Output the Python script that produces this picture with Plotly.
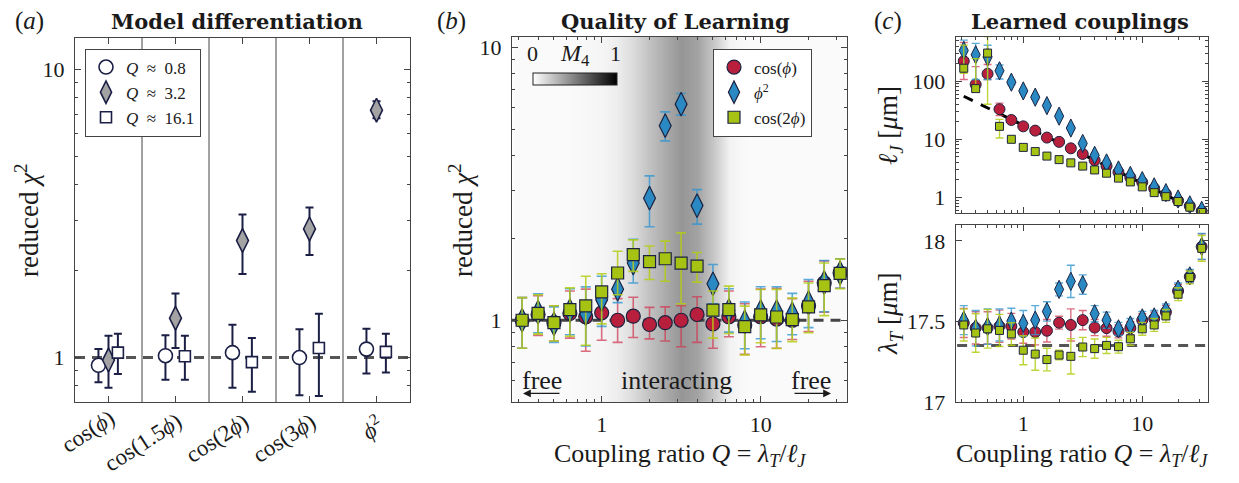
import numpy as np
import plotly.graph_objects as go

W, H = 1239, 483
FONT = "Liberation Serif"
BFONT = "DejaVu Serif"
INK = "#1a1a1a"
AX = "#444444"
NAVY = "#1b1f45"

# ---------------- panel (a) data ----------------
cats = ["cos(<i>ϕ</i>)", "cos(1.5<i>ϕ</i>)", "cos(2<i>ϕ</i>)", "cos(3<i>ϕ</i>)", "<i>ϕ</i><sup>2</sup>"]
q08 = [0.94, 1.015, 1.04, 1.0, 1.07]
q08_hi = [1.07, 1.195, 1.30, 1.255, 1.26]
q08_lo = [0.82, 0.837, 0.785, 0.74, 0.88]
q32 = [0.98, 1.37, 2.55, 2.8, 7.24]
q32_hi = [1.19, 1.67, 3.14, 3.32, 7.77]
q32_lo = [0.785, 1.08, 1.95, 2.27, 6.79]
q161 = [1.04, 1.01, 0.964, 1.08, 1.047]
q161_hi = [1.21, 1.19, 1.17, 1.42, 1.21]
q161_lo = [0.877, 0.837, 0.76, 0.735, 0.888]

# ---------------- panel (b) data ----------------
Q = [0.316, 0.398, 0.501, 0.631, 0.794, 1.0, 1.26, 1.58, 2.0, 2.51, 3.16,
     3.98, 5.01, 6.31, 7.94, 10.0, 12.6, 15.8, 20.0, 25.1, 31.6]
chi_cos = [1.0, 1.05, 0.98, 1.06, 1.03, 1.065, 1.0, 1.035, 0.965, 0.98, 1.0,
           1.05, 0.97, 1.03, 0.96, 1.03, 1.01, 1.0, 1.13, 1.37, 1.49]
chi_cos_up = [0.21, 0.18, 0.15, 0.22, 0.27, 0.22, 0.2, 0.18, 0.15, 0.14, 0.13,
              0.17, 0.15, 0.25, 0.19, 0.27, 0.3, 0.2, 0.26, 0.28, 0.19]
chi_cos_dn = [0.21, 0.17, 0.14, 0.2, 0.26, 0.22, 0.17, 0.17, 0.11, 0.14, 0.2,
              0.22, 0.18, 0.16, 0.21, 0.23, 0.22, 0.15, 0.22, 0.3, 0.18]
chi_phi2 = [1.0, 1.07, 0.97, 1.085, 1.055, 1.19, 1.30, 1.62, 2.8, 5.16, 6.19,
            2.63, 1.36, 1.085, 0.986, 1.076, 1.076, 1.055, 1.16, 1.375, 1.49]
chi_phi2_up = [0.21, 0.18, 0.15, 0.22, 0.27, 0.26, 0.14, 0.36, 0.58, 0.64, 0.58,
               0.38, 0.24, 0.22, 0.18, 0.25, 0.25, 0.2, 0.25, 0.28, 0.19]
chi_phi2_dn = [0.21, 0.17, 0.14, 0.2, 0.25, 0.24, 0.14, 0.25, 0.6, 0.62, 0.55,
               0.38, 0.21, 0.18, 0.2, 0.22, 0.24, 0.17, 0.22, 0.3, 0.18]
chi_cos2 = [1.0, 1.06, 0.98, 1.094, 1.13, 1.27, 1.49, 1.74, 1.64, 1.68, 1.62,
            1.58, 1.09, 1.094, 0.947, 1.047, 1.028, 1.005, 1.12, 1.34, 1.485]
chi_cos2_up = [0.21, 0.18, 0.15, 0.22, 0.32, 0.21, 0.3, 0.23, 0.23, 0.27, 0.47,
               0.19, 0.19, 0.24, 0.18, 0.25, 0.27, 0.2, 0.25, 0.28, 0.19]
chi_cos2_dn = [0.21, 0.17, 0.14, 0.22, 0.32, 0.3, 0.25, 0.23, 0.23, 0.29, 0.47,
               0.2, 0.23, 0.2, 0.2, 0.22, 0.24, 0.17, 0.22, 0.3, 0.18]
M4 = [0.02, 0.02, 0.02, 0.02, 0.03, 0.04, 0.07, 0.14, 0.24, 0.33, 0.41,
      0.36, 0.22, 0.05, 0.02, 0.02, 0.02, 0.02, 0.02, 0.02, 0.02]

# ---------------- panel (c) data ----------------
lJ_cos = [221, 88, 134, 32.9, 21.5, 16.7, 14.1, 10.7, 9.03, 7.0, 5.6,
          4.35, 3.46, 2.71, 2.21, 1.82, 1.43, 1.14, 0.88, 0.71, 0.58]
lJ_cos_up = [243, 90, 60, 9, 2, 1.5, 1.2, 0.9, 0.8, 0.6, 0.5,
             0.4, 0.3, 0.25, 0.2, 0.15, 0.12, 0.1, 0.08, 0.06, 0.05]
lJ_cos_dn = [114, 20, 27, 7.4, 2, 1.5, 1.2, 0.9, 0.8, 0.6, 0.5,
             0.4, 0.3, 0.25, 0.2, 0.15, 0.12, 0.1, 0.08, 0.06, 0.05]
lJ_phi2 = [337, 285, 261, 151, 96, 68, 53, 38, 25, 15.6, 8.5,
           5.3, 3.93, 2.97, 2.39, 1.95, 1.52, 1.21, 0.94, 0.745, 0.6]
lJ_phi2_up = [171, 162, 155, 39, 10, 5, 4, 3, 2, 1.2, 0.7,
              0.4, 0.3, 0.25, 0.2, 0.15, 0.12, 0.1, 0.08, 0.06, 0.05]
lJ_phi2_dn = [177, 178, 154, 42, 9, 5, 4, 3, 2, 1.2, 0.7,
              0.4, 0.3, 0.25, 0.2, 0.15, 0.12, 0.1, 0.08, 0.06, 0.05]
lJ_cos2 = [167, 74.5, 304, 16.7, 10, 7.26, 6.15, 5.14, 4.47, 3.93, 3.46,
           2.97, 2.61, 2.15, 1.85, 1.52, 1.21, 1.03, 0.85, 0.68, 0.55]
lJ_cos2_up = [250, 170, 280, 5.3, 0.8, 0.6, 0.5, 0.4, 0.35, 0.3, 0.28,
              0.24, 0.2, 0.17, 0.15, 0.12, 0.1, 0.08, 0.07, 0.05, 0.04]
lJ_cos2_dn = [30, 10, 264, 6.2, 0.8, 0.6, 0.5, 0.4, 0.35, 0.3, 0.28,
              0.24, 0.2, 0.17, 0.15, 0.12, 0.1, 0.08, 0.07, 0.05, 0.04]
lJ_ref_Q = [0.316, 31.6]
lJ_ref = [55, 0.55]

lam_cos = [17.49, 17.46, 17.46, 17.47, 17.47, 17.434, 17.434, 17.442, 17.492, 17.478, 17.508,
           17.462, 17.458, 17.438, 17.458, 17.508, 17.518, 17.558, 17.689, 17.779, 17.964]
lam_cos_err = [0.09, 0.1, 0.1, 0.1, 0.08, 0.07, 0.08, 0.07, 0.04, 0.1, 0.06,
               0.05, 0.05, 0.04, 0.04, 0.04, 0.04, 0.04, 0.04, 0.04, 0.08]
lam_phi2 = [17.508, 17.458, 17.468, 17.478, 17.502, 17.488, 17.508, 17.562, 17.699, 17.749, 17.729,
            17.548, 17.508, 17.454, 17.478, 17.522, 17.528, 17.568, 17.699, 17.783, 17.966]
lam_phi2_err = [0.09, 0.11, 0.11, 0.1, 0.08, 0.08, 0.09, 0.06, 0.04, 0.1, 0.06,
                0.05, 0.05, 0.04, 0.04, 0.04, 0.04, 0.04, 0.04, 0.04, 0.08]
lam_cos2 = [17.478, 17.428, 17.454, 17.444, 17.422, 17.321, 17.297, 17.263, 17.291, 17.283, 17.341,
            17.331, 17.351, 17.343, 17.392, 17.454, 17.478, 17.534, 17.669, 17.773, 17.954]
lam_cos2_err = [0.1, 0.12, 0.12, 0.1, 0.07, 0.09, 0.1, 0.07, 0.03, 0.11, 0.06,
                0.06, 0.05, 0.04, 0.04, 0.04, 0.04, 0.04, 0.04, 0.04, 0.08]
lam_ref = 17.35

# ---------------- styles ----------------
RED, BLUE, GREEN = "#b81f3c", "#2a88c2", "#a6c212"
RED_E, BLUE_E, GREEN_E = "rgba(205,60,85,0.75)", "rgba(50,150,210,0.8)", "rgba(180,205,20,0.85)"
EDGE = "#1c2340"
SP = "\u2002"


def px_x(p):
    return p / W


def px_y(p):
    return 1 - p / H


fig = go.Figure()

# ---------- panel (a) ----------
xa = np.arange(1, 6)
fig.add_trace(go.Scatter(x=[0.5, 5.5], y=[1, 1], mode="lines", xaxis="x", yaxis="y",
                         line=dict(color="#555555", width=3, dash="10px,7px"),
                         showlegend=False, hoverinfo="skip"))
for vals, hi, lo, off, sym, size, fill, name in [
    (q08, q08_hi, q08_lo, -0.15, "circle", 14, "white", f"<i>Q</i>{SP}≈{SP}0.8"),
    (q32, q32_hi, q32_lo, 0.0, "diamond-tall", 17, "#a3a3a3", f"<i>Q</i>{SP}≈{SP}3.2"),
    (q161, q161_hi, q161_lo, 0.14, "square", 11, "white", f"<i>Q</i>{SP}≈{SP}16.1"),
]:
    v = np.array(vals)
    fig.add_trace(go.Scatter(
        x=xa + off, y=v, mode="markers", name=name, xaxis="x", yaxis="y", legend="legend",
        marker=dict(symbol=sym, size=size, color=fill, line=dict(color=NAVY, width=1.6)),
        error_y=dict(type="data", symmetric=False, array=np.array(hi) - v,
                     arrayminus=v - np.array(lo), color=NAVY, thickness=2, width=4)))

# ---------- panel (b) ----------
logQ = np.log10(Q)
fig.add_trace(go.Heatmap(
    x=logQ, y=[0, 1], z=[M4, M4], xaxis="x2", yaxis="y2", zmin=0, zmax=1,
    colorscale=[[0, "#ffffff"], [1, "#000000"]], zsmooth="best", hoverinfo="skip",
    colorbar=dict(orientation="h", x=px_x(574.7), xanchor="center", y=px_y(87), yanchor="bottom",
                  len=84, lenmode="pixels", thickness=12, thicknessmode="pixels", xpad=0, ypad=0,
                  outlinewidth=1, outlinecolor="#222222", showticklabels=False, ticks="")))
fig.add_trace(go.Scatter(x=[0.2, 40], y=[1, 1], mode="lines", xaxis="x5", yaxis="y5",
                         line=dict(color="#444444", width=3, dash="10px,7px"),
                         showlegend=False, hoverinfo="skip"))
for vals, up, dn, col, ecol, sym, size, name in [
    (chi_cos, chi_cos_up, chi_cos_dn, RED, RED_E, "circle", 14, "cos(<i>ϕ</i>)"),
    (chi_phi2, chi_phi2_up, chi_phi2_dn, BLUE, BLUE_E, "diamond-tall", 17, "<i>ϕ</i><sup>2</sup>"),
    (chi_cos2, chi_cos2_up, chi_cos2_dn, GREEN, GREEN_E, "square", 12, "cos(2<i>ϕ</i>)"),
]:
    fig.add_trace(go.Scatter(
        x=Q, y=vals, mode="markers", name=name, xaxis="x5", yaxis="y5", legend="legend2",
        marker=dict(symbol=sym, size=size, color=col, line=dict(color=EDGE, width=1.2)),
        error_y=dict(type="data", symmetric=False, array=up, arrayminus=dn,
                     color=ecol, thickness=1.6, width=5)))

# ---------- panel (c) top ----------
fig.add_trace(go.Scatter(x=lJ_ref_Q, y=lJ_ref, mode="lines", xaxis="x3", yaxis="y3",
                         line=dict(color="black", width=3, dash="10px,9px"),
                         showlegend=False, hoverinfo="skip"))
for vals, up, dn, col, ecol, sym, size in [
    (lJ_cos, lJ_cos_up, lJ_cos_dn, RED, RED_E, "circle", 11),
    (lJ_phi2, lJ_phi2_up, lJ_phi2_dn, BLUE, BLUE_E, "diamond-tall", 13),
    (lJ_cos2, lJ_cos2_up, lJ_cos2_dn, GREEN, GREEN_E, "square", 8),
]:
    fig.add_trace(go.Scatter(
        x=Q, y=vals, mode="markers", xaxis="x3", yaxis="y3", showlegend=False,
        marker=dict(symbol=sym, size=size, color=col, line=dict(color=EDGE, width=1)),
        error_y=dict(type="data", symmetric=False, array=up, arrayminus=dn,
                     color=ecol, thickness=1.4, width=4)))

# ---------- panel (c) bottom ----------
fig.add_trace(go.Scatter(x=[0.2, 40], y=[lam_ref, lam_ref], mode="lines", xaxis="x4", yaxis="y4",
                         line=dict(color="#555555", width=3, dash="10px,7px"),
                         showlegend=False, hoverinfo="skip"))
for vals, err, col, ecol, sym, size in [
    (lam_cos, lam_cos_err, RED, RED_E, "circle", 11),
    (lam_phi2, lam_phi2_err, BLUE, BLUE_E, "diamond-tall", 13),
    (lam_cos2, lam_cos2_err, GREEN, GREEN_E, "square", 8),
]:
    fig.add_trace(go.Scatter(
        x=Q, y=vals, mode="markers", xaxis="x4", yaxis="y4", showlegend=False,
        marker=dict(symbol=sym, size=size, color=col, line=dict(color=EDGE, width=1)),
        error_y=dict(type="data", array=err, color=ecol, thickness=1.4, width=4)))

# ---------------- axes ----------------
tickfont = dict(family=FONT, size=22, color=INK)
common = dict(showline=True, linecolor=AX, linewidth=1, mirror="allticks", ticks="inside",
              ticklen=6, tickcolor=AX, showgrid=False, zeroline=False, tickfont=tickfont)
minor_dec = [0.3, 0.4, 0.5, 0.6, 0.7, 0.8, 0.9, 2, 3, 4, 5, 6, 7, 8, 9, 20, 30, 40, 50, 60, 70, 80, 90,
             200, 300, 400, 500]
minor = dict(tickmode="array", tickvals=minor_dec, ticks="inside", ticklen=3, tickcolor=AX)
xstand = dict(ticklabelstandoff=2)
ystand = dict(ticklabelstandoff=5)

dom_a_x = [px_x(75), px_x(410)]
dom_b_x = [px_x(512), px_x(847)]
dom_c_x = [px_x(955.7), px_x(1207.7)]

fig.update_layout(
    width=W, height=H, margin=dict(l=0, r=0, t=0, b=0),
    paper_bgcolor="white", plot_bgcolor="white",
    font=dict(family=FONT, color=INK),
    xaxis=dict(domain=dom_a_x, anchor="y", range=[0.5, 5.5], tickmode="array",
               tickvals=list(xa), showticklabels=False, **common),
    yaxis=dict(domain=[px_y(413), px_y(37)], anchor="x", type="log", range=[-0.155, 1.111],
               tickmode="array", tickvals=[1, 10], ticktext=["1", "10"], minor=minor, **ystand, **common),
    xaxis2=dict(domain=dom_b_x, anchor="y2", range=[-0.564, 1.543], visible=False),
    yaxis2=dict(domain=[px_y(413), px_y(36)], anchor="x2", range=[0, 1], visible=False),
    xaxis5=dict(overlaying="x2", anchor="y5", type="log", range=[-0.564, 1.543],
                tickmode="array", tickvals=[1, 10], ticktext=["1", "10"], minor=minor, **xstand, **common),
    yaxis5=dict(overlaying="y2", anchor="x5", type="log", range=[-0.30, 1.038],
                tickmode="array", tickvals=[1, 10], ticktext=["1", "10"], minor=minor, **ystand, **common),
    xaxis3=dict(domain=dom_c_x, anchor="y3", type="log", range=[-0.568, 1.55],
                tickmode="array", tickvals=[1, 10], showticklabels=False, minor=minor, **common),
    yaxis3=dict(domain=[px_y(217.7), px_y(35.7)], anchor="x3", type="log", range=[-0.267, 2.767],
                tickmode="array", tickvals=[1, 10, 100], ticktext=["1", "10", "100"], minor=minor,
                **ystand, **common),
    xaxis4=dict(domain=dom_c_x, anchor="y4", type="log", range=[-0.568, 1.55],
                tickmode="array", tickvals=[1, 10], ticktext=["1", "10"], minor=minor, **xstand, **common),
    yaxis4=dict(domain=[px_y(412.7), px_y(230)], anchor="x4", range=[17, 18.1],
                tickmode="array", tickvals=[17, 17.5, 18], ticktext=["17", "17.5", "18"],
                **ystand, **common),
    legend=dict(x=px_x(85), y=px_y(48), xanchor="left", yanchor="top", bgcolor="white",
                bordercolor=AX, borderwidth=1, font=dict(family=FONT, size=17, color=INK),
                itemsizing="trace", tracegroupgap=0),
    legend2=dict(x=px_x(713), y=px_y(48), xanchor="left", yanchor="top", bgcolor="white",
                 bordercolor=AX, borderwidth=1, font=dict(family=FONT, size=17, color=INK),
                 itemsizing="trace", tracegroupgap=0),
)

# separators in panel (a)
for xs in [1.5, 2.5, 3.5, 4.5]:
    fig.add_shape(type="line", xref="x", yref="y domain", x0=xs, x1=xs, y0=0, y1=1,
                  line=dict(color=AX, width=1), layer="below")


def ann(text, x, y, size, angle=0, family=FONT, xanchor="center", yanchor="middle"):
    fig.add_annotation(text=text, x=px_x(x), y=px_y(y), xref="paper", yref="paper",
                       showarrow=False, textangle=angle, xanchor=xanchor, yanchor=yanchor,
                       font=dict(family=family, size=size, color=INK))


# category tick labels of panel (a), rotated
cat_pos = [(88, 443), (143, 455), (217, 451), (284, 451), (372, 439)]
for lab, (cx, cy) in zip(cats, cat_pos):
    ann(lab, cx, cy, 23, angle=-33)

# panel labels & titles
ann("(<i>a</i>)", 29, 20, 25)
ann("(<i>b</i>)", 452, 20, 25)
ann("(<i>c</i>)", 888, 20, 25)
ann("<b>Model differentiation</b>", 237, 20, 21, family=BFONT)
ann("<b>Quality of Learning</b>", 675, 20, 21, family=BFONT)
ann("<b>Learned couplings</b>", 1080, 20, 21, family=BFONT)

# axis titles
ann("reduced <i>χ</i><sup>2</sup>", 27, 225, 27, angle=-90)
ann("reduced <i>χ</i><sup>2</sup>", 461, 225, 27, angle=-90)
ann("<i>ℓ<sub>J</sub></i> [<i>μ</i>m]", 890, 127, 27, angle=-90)
ann("<i>λ<sub>T</sub></i> [<i>μ</i>m]", 890, 321, 27, angle=-90)
ann("Coupling ratio <i>Q</i> = <i>λ<sub>T</sub></i>/<i>ℓ<sub>J</sub></i>", 680, 468, 26)
ann("Coupling ratio <i>Q</i> = <i>λ<sub>T</sub></i>/<i>ℓ<sub>J</sub></i>", 1082, 468, 26)

# colorbar labels
ann("0", 532, 53, 22)
ann("<i>M</i><sub>4</sub>", 575, 55, 24)
ann("1", 615, 53, 22)

# free / interacting
ann("free", 542, 391, 26)
ann("interacting", 676, 391, 26)
ann("free", 811, 391, 26)
for head, tail in [(523, 561), (831, 793)]:
    fig.add_annotation(x=px_x(head), y=px_y(404), xref="paper", yref="paper", text="",
                       showarrow=True, ax=tail - head, ay=0, arrowhead=2, arrowsize=1.2,
                       arrowwidth=1.3, arrowcolor=INK)

fig.write_html("out.html")
